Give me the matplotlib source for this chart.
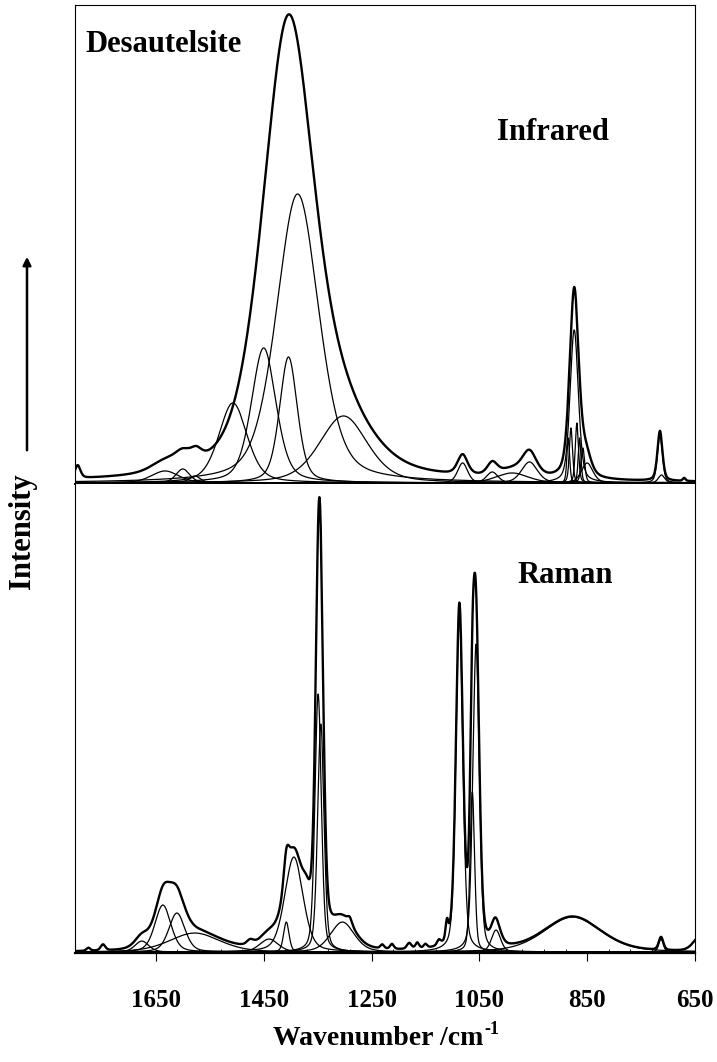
import numpy as np
import matplotlib
matplotlib.use("Agg")
import matplotlib.pyplot as plt
from matplotlib.patches import FancyArrowPatch
from matplotlib.ticker import FixedLocator

plt.rcParams['font.family'] = ['Liberation Serif', 'DejaVu Serif']
plt.rcParams['font.weight'] = 'bold'

# infrared fitted bands: centre (cm-1), height (a.u.), FWHM (cm-1)
ir_centers = [1633, 1600, 1578, 1507, 1450, 1404, 1387, 1302, 1081, 1026, 989, 957,
              885, 880, 874, 869, 864, 858, 850, 715, 712]
ir_heights = [12, 14, 7, 80, 135, 126, 289, 67, 20, 11, 10, 21,
              45, 55, 153, 60, 45, 35, 20, 48, 8]
ir_widths = [60, 30, 25, 62, 54, 39, 93, 105, 22, 25, 70, 35,
             6, 7, 18, 7, 6, 8, 25, 11, 14]
# measured infrared trace (envelope)
ir_obs_centers = [1795, 1633, 1600, 1575, 1404, 1302, 1081, 1026, 989, 957,
                  874, 852, 715, 670]
ir_obs_heights = [13, 10, 12, 10, 458, 45, 20, 12, 8, 24,
                  190, 20, 50, 3]
ir_obs_widths = [12, 60, 35, 25, 114, 130, 22, 22, 60, 32,
                 20, 22, 11, 6]

# raman fitted bands
ra_centers = [1676, 1637, 1611, 1578, 1440, 1408, 1394, 1349, 1344, 1304,
              1087, 1063, 1056, 1019, 877, 713]
ra_heights = [11, 47, 39, 19, 13, 30, 95, 258, 228, 30,
              340, 160, 308, 22, 35, 13]
ra_widths = [30, 35, 35, 110, 40, 12, 40, 14, 14, 52,
             15, 10, 14, 20, 125, 10]
# extra structure seen only in the measured raman trace
ra_extra_centers = [1775, 1748, 1475, 1370, 1290, 1230, 1212, 1180, 1165, 1150,
                    1125, 1110, 1022, 640]
ra_extra_heights = [3, 6, 5, 22, 6, 4, 5, 6, 6, 4,
                    5, 18, 4, 15]
ra_extra_widths = [8, 10, 15, 18, 10, 8, 8, 10, 8, 8,
                   8, 6, 12, 30]

x_min, x_max = 650, 1800
major_ticks = [1650, 1450, 1250, 1050, 850, 650]


def band(x, c, h, w, eta):
    u = (x - c) / w
    g = np.exp(-4 * np.log(2) * u ** 2)
    l = 1 / (1 + 4 * u ** 2)
    return h * (eta * l + (1 - eta) * g)


def bands_sum(x, centers, heights, widths, eta):
    total = np.zeros_like(x)
    for c, h, w in zip(centers, heights, widths):
        total += band(x, c, h, w, eta)
    return total


x = np.linspace(x_min, x_max, 4000)

fig = plt.figure(figsize=(7.17, 10.62), dpi=100)
ax1 = fig.add_axes([0.1046, 0.5443, 0.8647, 0.4510])
ax2 = fig.add_axes([0.1046, 0.1026, 0.8647, 0.4417])

# infrared: components + measured envelope
for c, h, w in zip(ir_centers, ir_heights, ir_widths):
    ax1.plot(x, band(x, c, h, w, 0.4), color='black', lw=0.9)
ax1.plot(x, bands_sum(x, ir_obs_centers, ir_obs_heights, ir_obs_widths, 0.45),
         color='black', lw=1.7)

# raman: components + envelope (fit sum plus small measured features)
for c, h, w in zip(ra_centers, ra_heights, ra_widths):
    ax2.plot(x, band(x, c, h, w, 0.35), color='black', lw=0.9)
ra_total = (bands_sum(x, ra_centers, ra_heights, ra_widths, 0.35)
            + bands_sum(x, ra_extra_centers, ra_extra_heights, ra_extra_widths, 0.35))
ax2.plot(x, ra_total, color='black', lw=1.7)

for ax in (ax1, ax2):
    ax.set_xlim(x_max, x_min)
    ax.set_yticks([])
    for sp in ax.spines.values():
        sp.set_linewidth(0.8)
ax1.set_ylim(-1, 478)
ax2.set_ylim(-1, 468)

ax1.spines['bottom'].set_linewidth(1.4)
ax1.set_xticks([])

ax2.spines['bottom'].set_linewidth(1.6)
ax2.spines['top'].set_visible(False)
ax2.xaxis.set_major_locator(FixedLocator(major_ticks))
ax2.xaxis.set_minor_locator(FixedLocator(np.arange(650, 1800, 40)))
ax2.tick_params(axis='x', which='major', direction='out', length=6, width=0.8,
                pad=20, labelsize=18)
ax2.tick_params(axis='x', which='minor', direction='in', length=3, width=0.6)

W, H = 717, 1062
fig.text(85 / W, 1 - 52 / H, 'Desautelsite', fontsize=22, ha='left', va='baseline')
fig.text(553 / W, 1 - 140 / H, 'Infrared', fontsize=22, ha='center', va='baseline')
fig.text(565 / W, 1 - 583 / H, 'Raman', fontsize=22, ha='center', va='baseline')

xl = fig.text(378 / W, 1 - 1045 / H, 'Wavenumber /cm', fontsize=20,
              ha='center', va='baseline')
fig.canvas.draw()
bb = xl.get_window_extent()
fig.text((bb.x1 + 1) / W, 1 - 1034 / H, '-1', fontsize=13, ha='left', va='baseline')

fig.text(23 / W, 1 - 531 / H, 'Intensity', rotation=90, fontsize=22,
         ha='center', va='center')
fig.add_artist(FancyArrowPatch(
    (27 / W, 1 - 453 / H), (27 / W, 1 - 254 / H),
    transform=fig.transFigure, arrowstyle='-|>', mutation_scale=12,
    color='black', lw=1.8))

fig.savefig('out.png', dpi=100)
